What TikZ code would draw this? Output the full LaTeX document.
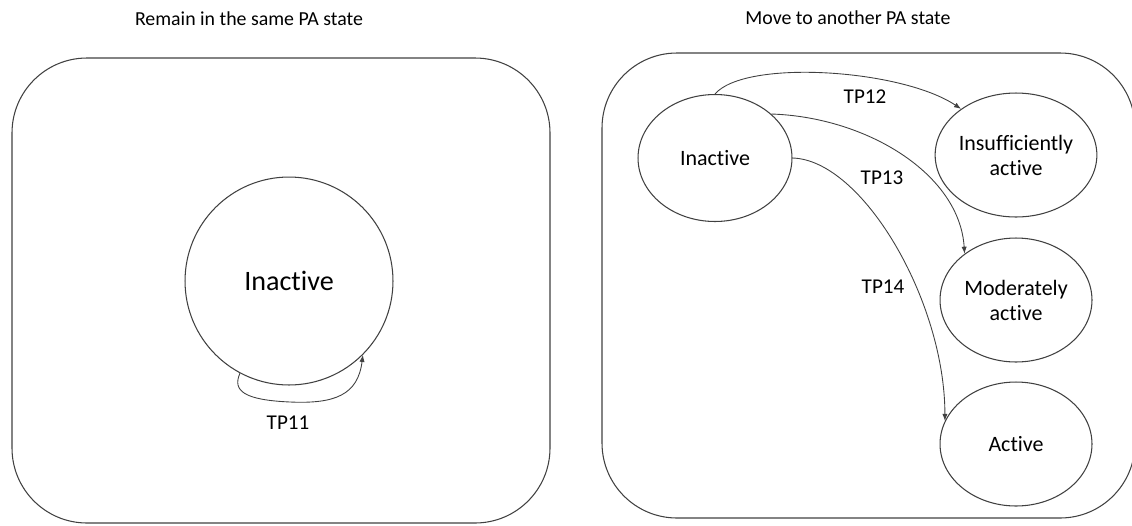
\documentclass[tikz,border=0pt]{standalone}
\usepackage{fontspec}
\setmainfont{Carlito}[Ligatures=NoCommon]
\usetikzlibrary{shapes.geometric, arrows.meta}

\begin{document}
\begin{tikzpicture}[x=0.02cm, y=-0.02cm,
    line/.style={draw=black!75, line width=0.6pt},
    frame/.style={line, rounded corners=1.5cm},
    state/.style={ellipse, line, inner sep=0pt, align=center,
      minimum width=3.04cm, minimum height=2.48cm, font=\fontsize{12.5}{14.2}\selectfont},
    trans/.style={line, line width=0.5pt, -{Latex[length=4pt, width=3pt]}},
    lbl/.style={font=\fontsize{12}{14}\selectfont},
    ttl/.style={font=\fontsize{11.3}{13}\selectfont}]
  \useasboundingbox (0,0) rectangle (1132,525);

  % left panel: staying in the same state
  \node[ttl] (ttlleft) at (249,19) {Remain in the same PA state};
  \draw[frame] (12,58) rectangle (550,523);
  \node[state, circle, minimum size=4.16cm, font=\fontsize{16}{19}\selectfont] (lin) at (289,281) {Inactive};
  \draw[trans] (lin.242) .. controls +(-8,18) and (245,400) .. (290,402)
    .. controls (335,404) and +(-5,40) .. (lin.315);
  \node[lbl] (tp11) at (288,423) {TP11};

  % right panel: moving to another state
  \node[ttl] (ttlright) at (848,18) {Move to another PA state};
  \draw[frame] (602,53) rectangle (1135,518);
  \node[state, minimum width=3.08cm, minimum height=2.54cm] (rin) at (715,158) {Inactive};
  \node[state] (ins) at (1016,155) {Insufficiently\\active};
  \node[state] (mod) at (1016,300) {Moderately\\active};
  \node[state] (act) at (1016,444) {Active};

  \draw[trans] (rin.north) .. controls +(30,-35) and +(-60,-40) .. (ins.140);
  \draw[trans] (rin.38) .. controls +(95,3) and +(-5,-80) .. (mod.138);
  \draw[trans] (rin.east) .. controls +(70,2) and +(0,-120) .. (act.162);
  \node[lbl] (tp12) at (865,97) {TP12};
  \node[lbl] (tp13) at (882,178) {TP13};
  \node[lbl] (tp14) at (883,287) {TP14};
\end{tikzpicture}
\end{document}
